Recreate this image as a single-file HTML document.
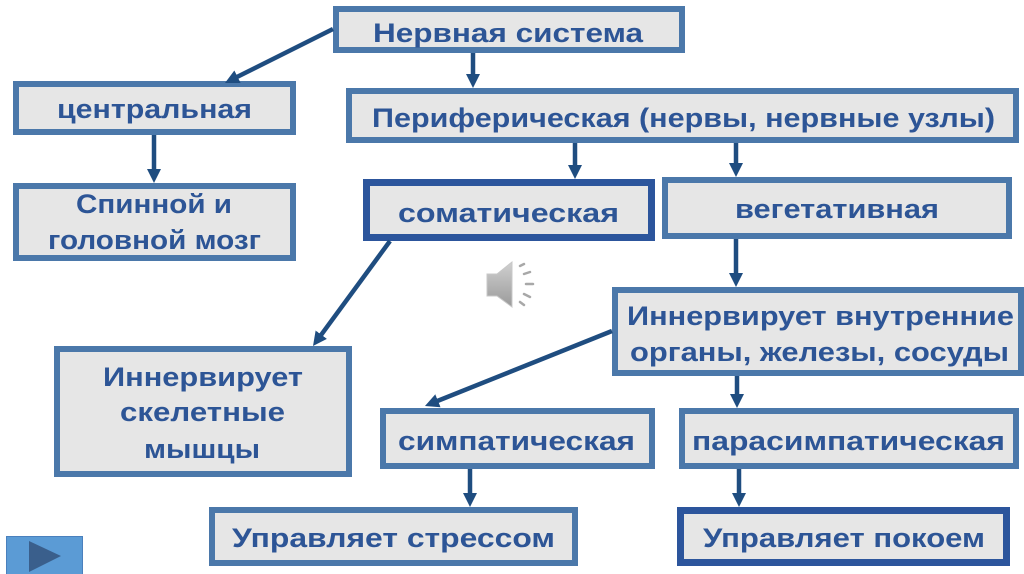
<!DOCTYPE html>
<html><head><meta charset="utf-8"><style>
html,body{margin:0;padding:0;background:#fff;}
svg{display:block;}
text{font-family:"Liberation Sans","DejaVu Sans",sans-serif;font-weight:bold;fill:#2d5596;font-size:26.5px;}
</style></head><body>
<svg width="1024" height="574" viewBox="0 0 1024 574" xmlns="http://www.w3.org/2000/svg">
<defs>
<marker id="ah" markerUnits="userSpaceOnUse" markerWidth="16" markerHeight="16" refX="2" refY="7" orient="auto" viewBox="0 0 16 14">
<path d="M0,0 L14,7 L0,14 z" fill="#1f4d80"/>
</marker>
<linearGradient id="spk" x1="0" y1="0" x2="0" y2="1"><stop offset="0" stop-color="#d0d0d0"/><stop offset="1" stop-color="#9a9a9a"/></linearGradient>
</defs>
<rect width="1024" height="574" fill="#fff"/>

<!-- boxes light -->
<g fill="#e6e6e6" stroke="#4b78aa" stroke-width="6">
<rect x="336" y="9" width="346" height="41"/>
<rect x="16" y="84" width="277" height="48"/>
<rect x="16" y="186" width="277" height="72"/>
<rect x="349" y="91" width="667" height="49"/>
<rect x="665" y="180" width="344" height="56"/>
<rect x="615" y="290" width="406" height="83"/>
<rect x="57" y="349" width="292" height="125"/>
<rect x="383" y="411" width="269" height="55"/>
<rect x="682" y="411" width="334" height="55"/>
<rect x="212" y="510" width="363" height="53"/>
</g>
<g fill="#e6e6e6" stroke="#2c559c" stroke-width="7">
<rect x="366.5" y="182.5" width="285" height="55"/>
<rect x="680.5" y="510.5" width="326" height="52"/>
</g>

<!-- arrows -->
<g stroke="#1f4d80" stroke-width="4.5" fill="none" marker-end="url(#ah)">
<line x1="333" y1="29" x2="235.7" y2="77.6"/>
<line x1="473" y1="53" x2="473" y2="76"/>
<line x1="154" y1="135" x2="154" y2="171"/>
<line x1="575" y1="143" x2="575" y2="167"/>
<line x1="736" y1="143" x2="736" y2="165"/>
<line x1="736" y1="239" x2="736" y2="275"/>
<line x1="390" y1="241" x2="320.1" y2="336.3"/>
<line x1="612" y1="331" x2="436.1" y2="401.5"/>
<line x1="737" y1="376" x2="737" y2="396"/>
<line x1="470" y1="469" x2="470" y2="495"/>
<line x1="739" y1="469" x2="739" y2="495"/>
</g>

<!-- texts -->
<text x="373" y="42" textLength="270" lengthAdjust="spacingAndGlyphs">Нервная система</text>
<text x="57" y="118" textLength="195" lengthAdjust="spacingAndGlyphs">центральная</text>
<text x="76" y="213" textLength="156" lengthAdjust="spacingAndGlyphs">Спинной и</text>
<text x="48" y="249" textLength="213" lengthAdjust="spacingAndGlyphs">головной мозг</text>
<text x="372" y="127" textLength="623" lengthAdjust="spacingAndGlyphs">Периферическая (нервы, нервные узлы)</text>
<text x="398" y="222" textLength="221" lengthAdjust="spacingAndGlyphs">соматическая</text>
<text x="735" y="218" textLength="204" lengthAdjust="spacingAndGlyphs">вегетативная</text>
<text x="627" y="325" textLength="387" lengthAdjust="spacingAndGlyphs">Иннервирует внутренние</text>
<text x="630" y="361" textLength="379" lengthAdjust="spacingAndGlyphs">органы, железы, сосуды</text>
<text x="103" y="386" textLength="200" lengthAdjust="spacingAndGlyphs">Иннервирует</text>
<text x="120" y="421" textLength="165" lengthAdjust="spacingAndGlyphs">скелетные</text>
<text x="144" y="458" textLength="116" lengthAdjust="spacingAndGlyphs">мышцы</text>
<text x="398" y="450" textLength="237" lengthAdjust="spacingAndGlyphs">симпатическая</text>
<text x="692" y="450" textLength="313" lengthAdjust="spacingAndGlyphs">парасимпатическая</text>
<text x="232" y="547" textLength="323" lengthAdjust="spacingAndGlyphs">Управляет стрессом</text>
<text x="703" y="547" textLength="282" lengthAdjust="spacingAndGlyphs">Управляет покоем</text>

<!-- speaker icon -->
<g>
<polygon points="487,274 497,274 512,262 512,307 497,296 487,296" fill="url(#spk)" stroke="#c8c8c8" stroke-width="1"/>
<g stroke="#a8a8a8" stroke-width="2.5" stroke-linecap="round">
<line x1="520" y1="266" x2="524" y2="264"/>
<line x1="524" y1="274" x2="530" y2="272"/>
<line x1="526" y1="284" x2="533" y2="284"/>
<line x1="524" y1="294" x2="530" y2="297"/>
<line x1="520" y1="302" x2="524" y2="305"/>
</g>
</g>

<!-- play button -->
<rect x="6.5" y="536.5" width="76" height="40" fill="#5b9bd5" stroke="#4a80bd" stroke-width="1"/>
<polygon points="29,541 61,556 29,572" fill="#3a5f8c"/>
</svg>
</body></html>
